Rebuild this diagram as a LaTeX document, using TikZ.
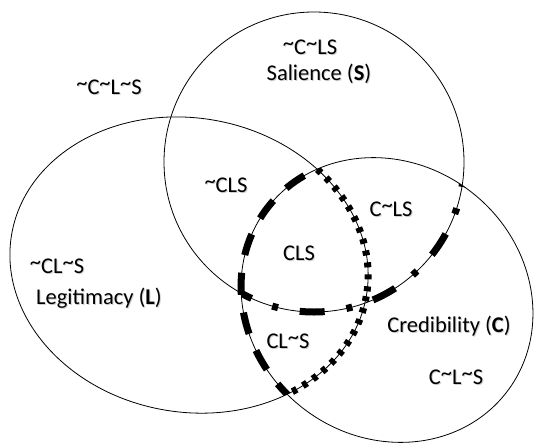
\documentclass[tikz,border=0pt]{standalone}
\usepackage{fontspec}
\setmainfont{Carlito}
\usetikzlibrary{positioning}
\newcommand{\tl}{\raisebox{0.2em}{\textasciitilde}}
% soft grey copy under each label
\newcommand{\shd}[1]{\makebox[0pt][l]{\color{black!18}\kern1pt\raisebox{-1pt}{#1}}#1}

\begin{document}
\begin{tikzpicture}[x=1pt,y=-1pt,% image coordinates, y downwards
		every node/.style={
			font=\fontsize{22.5}{26}\selectfont,
			inner sep=0pt
		},
		set/.style={draw=black,line width=0.8pt},
		cborder/.style={line width=7pt,dash pattern=on 22pt off 18pt},	% C inside L
		lborder/.style={line width=7pt,dash pattern=on 5pt off 7pt},		% L inside C
		sborder/.style={line width=7pt,dash pattern=on 25pt off 22pt on 6pt off 22pt}	% S inside C
	]
	\useasboundingbox (0,0) rectangle (534,444);
	\coordinate (S) at (314,162);
	\coordinate (L) at (189,265);
	\coordinate (C) at (387,300);

	% thick borders of the shared regions
	\begin{scope}
		\clip[rotate around={-10:(L)}] (L) ellipse [x radius=180,y radius=147];
		\draw[cborder,rotate around={-37.6:(C)}] (C) ellipse [x radius=151,y radius=137];
	\end{scope}
	\begin{scope}
		\clip[rotate around={-37.6:(C)}] (C) ellipse [x radius=151,y radius=137];
		\draw[lborder,rotate around={-10:(L)}] (L) ellipse [x radius=180,y radius=147];
		\draw[sborder] (S) circle [radius=150];
	\end{scope}

	% the three sets
	\draw[set] (S) circle [radius=150];
	\draw[set,rotate around={-10:(L)}] (L) ellipse [x radius=180,y radius=147];
	\draw[set,rotate around={-37.6:(C)}] (C) ellipse [x radius=151,y radius=137];

	% labels
	\node (s-code) at (310,48) {\shd{\tl C\tl LS}};
	\node (s-name) at (319,74) {\shd{Salience (\textbf{S})}};
	\node (none) at (109,88) {\shd{\tl C\tl L\tl S}};
	\node (ls) at (226,186) {\shd{\tl CLS}};
	\node (cs) at (391,210) {\shd{C\tl LS}};
	\node (cls) at (299,254) {\shd{CLS}};
	\node (l-code) at (57,267) {\shd{\tl CL\tl S}};
	\node (l-name) at (99,299) {\shd{Legitimacy (\textbf{L})}};
	\node (cl) at (288,342) {\shd{CL\tl S}};
	\node (c-name) at (449,327) {\shd{Credibility (\textbf{C})}};
	\node (c-code) at (456,378) {\shd{C\tl L\tl S}};
\end{tikzpicture}
\end{document}
